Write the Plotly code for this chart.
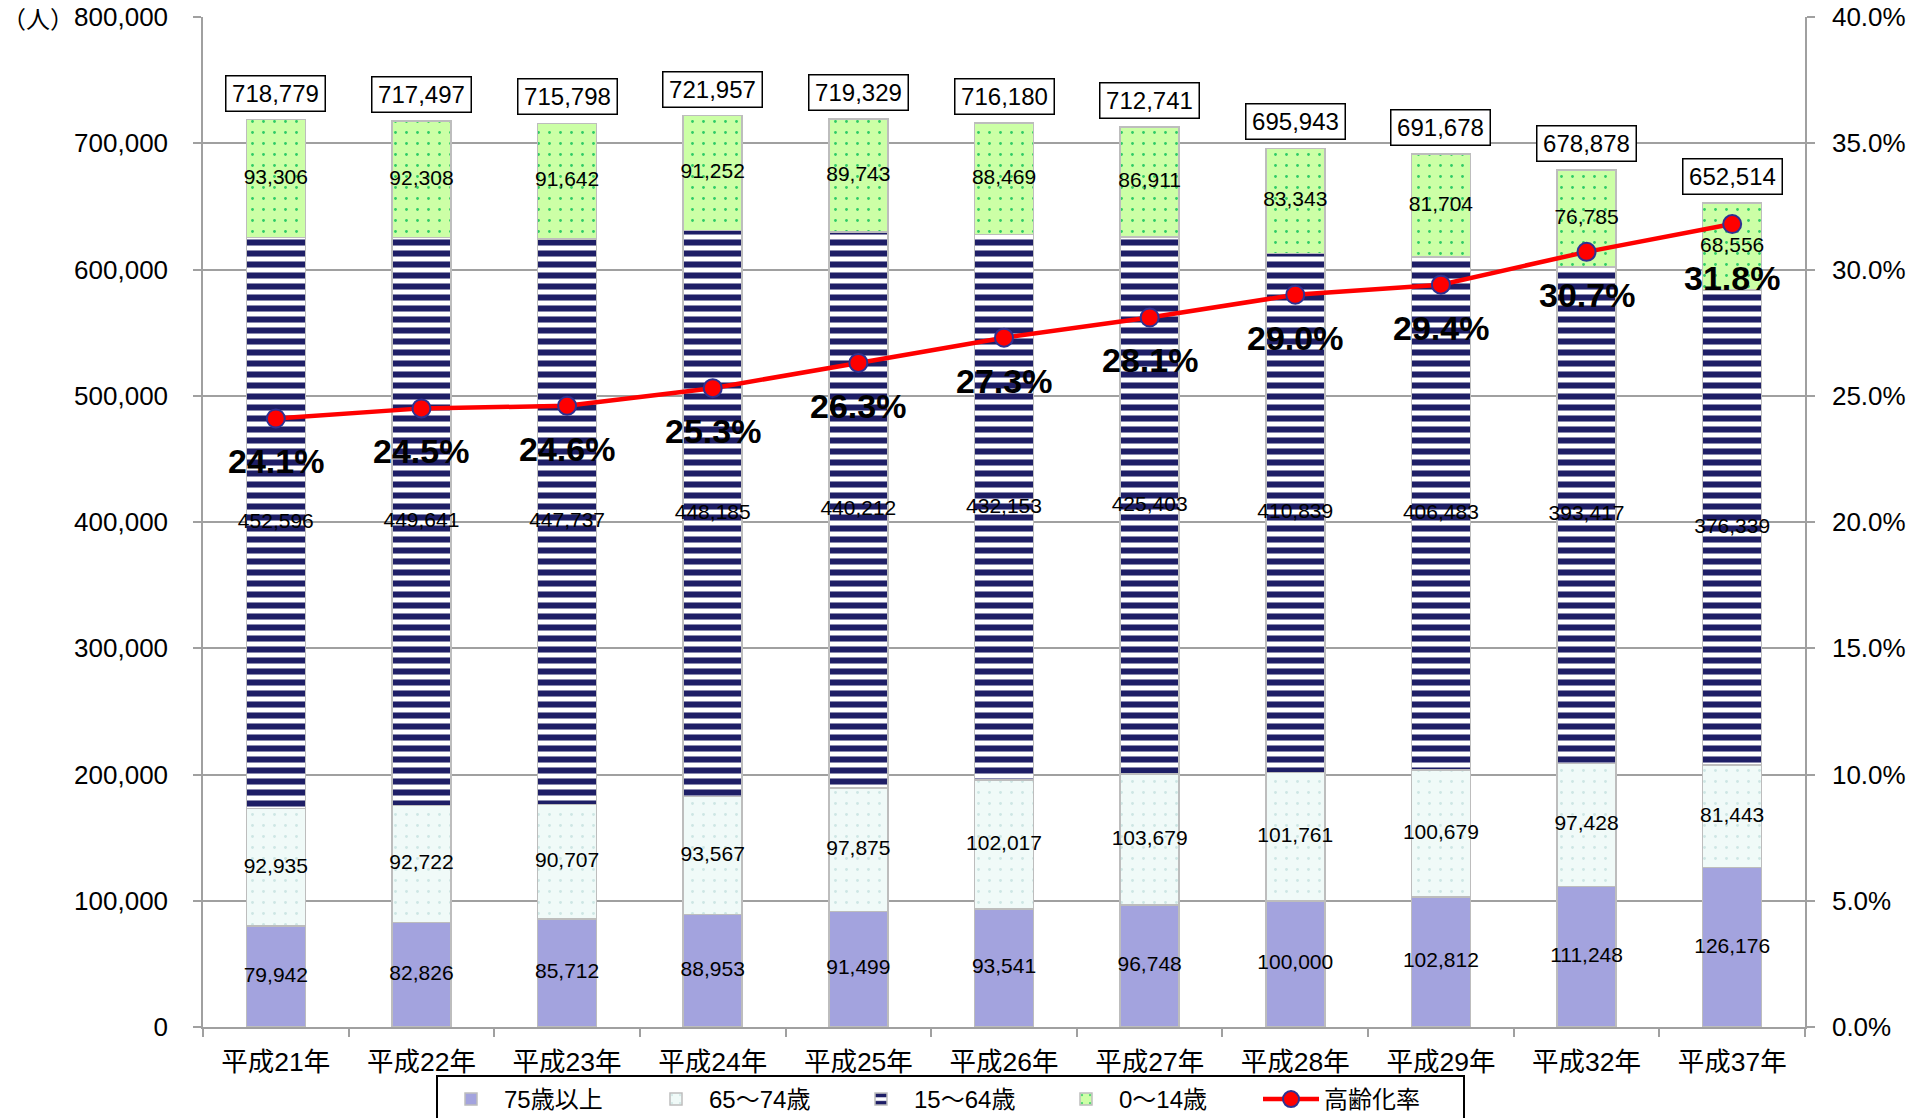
import plotly.graph_objects as go

# 年度
years = ["平成21年", "平成22年", "平成23年", "平成24年", "平成25年", "平成26年",
         "平成27年", "平成28年", "平成29年", "平成32年", "平成37年"]

# 年齢区分別人口（人）
age_75_over = [79942, 82826, 85712, 88953, 91499, 93541, 96748, 100000, 102812, 111248, 126176]
age_65_74 = [92935, 92722, 90707, 93567, 97875, 102017, 103679, 101761, 100679, 97428, 81443]
age_15_64 = [452596, 449641, 447737, 448185, 440212, 432153, 425403, 410839, 406483, 393417, 376339]
age_0_14 = [93306, 92308, 91642, 91252, 89743, 88469, 86911, 83343, 81704, 76785, 68556]
totals = [718779, 717497, 715798, 721957, 719329, 716180, 712741, 695943, 691678, 678878, 652514]

# 高齢化率（%）
aging_rate = [24.1, 24.5, 24.6, 25.3, 26.3, 27.3, 28.1, 29.0, 29.4, 30.7, 31.8]

FONT = "Liberation Sans, Arial, Noto Sans CJK JP, sans-serif"
GRID = "#A0A0A0"
BAR_EDGE = "#BDBDBD"

series = [
    ("75歳以上", age_75_over, dict(color="#A3A3DE")),
    ("65～74歳", age_65_74, dict(color="#F0FAF8",
                                 pattern=dict(shape=".", fgcolor="#CDE6E4", bgcolor="#F0FAF8",
                                              fgopacity=1, size=11, solidity=0.05))),
    ("15～64歳", age_15_64, dict(color="#FFFFFF",
                                 pattern=dict(shape="-", fgcolor="#1E1E66", bgcolor="#FFFFFF",
                                              fgopacity=1, size=11, solidity=0.55))),
    ("0～14歳", age_0_14, dict(color="#CCFFA6",
                               pattern=dict(shape=".", fgcolor="#2ECC66", bgcolor="#CCFFA6",
                                            fgopacity=1, size=11, solidity=0.05))),
]

fig = go.Figure()

for name, values, marker in series:
    marker = dict(marker)
    marker["line"] = dict(color=BAR_EDGE, width=1.5)
    fig.add_trace(go.Bar(x=years, y=values, name=name, marker=marker, yaxis="y"))

# segment value labels at the middle of each stacked segment
base = [0] * len(years)
for name, values, _ in series:
    mids = [b + v / 2 for b, v in zip(base, values)]
    fig.add_trace(go.Scatter(
        x=years, y=mids, mode="text", text=[f"{v:,}" for v in values],
        textfont=dict(family=FONT, size=21, color="#000000"),
        showlegend=False, hoverinfo="skip", yaxis="y"))
    base = [b + v for b, v in zip(base, values)]

# aging rate line
fig.add_trace(go.Scatter(
    x=years, y=[r / 100 for r in aging_rate], name="高齢化率", yaxis="y2",
    mode="lines+markers",
    line=dict(color="#FF0000", width=4.5),
    marker=dict(size=18, color="#FF0000", line=dict(color="#2E3192", width=2)),
))

annotations = []
# total population boxes above each bar
for cat, tot in zip(years, totals):
    annotations.append(dict(
        x=cat, y=tot, xref="x", yref="y", text=f"{tot:,}", showarrow=False,
        yanchor="bottom", yshift=8, width=92, height=28,
        font=dict(family=FONT, size=24, color="#000000"),
        bgcolor="#FFFFFF", bordercolor="#000000", borderwidth=1.5, borderpad=3))

# aging rate labels below each marker
for i, (cat, r) in enumerate(zip(years, aging_rate)):
    drop = 43 + (11 if i == len(years) - 1 else 0)
    annotations.append(dict(
        x=cat, y=r / 100, xref="x", yref="y2", text=f"<b>{r:.1f}%</b>", showarrow=False,
        yanchor="middle", yshift=-drop,
        font=dict(family=FONT, size=34, color="#000000")))

# unit label
annotations.append(dict(
    x=-203 / 1602, y=1, xref="paper", yref="paper", text="（人）", showarrow=False,
    xanchor="left", yanchor="middle",
    font=dict(family="Noto Sans CJK JP, sans-serif", size=24, color="#000000")))

fig.update_layout(
    width=1925, height=1118,
    margin=dict(l=203, r=120, t=17, b=91, autoexpand=False),
    paper_bgcolor="#FFFFFF", plot_bgcolor="#FFFFFF",
    barmode="stack", bargap=0.595,
    font=dict(family=FONT, size=24, color="#000000"),
    xaxis=dict(
        type="category", range=[-0.5, len(years) - 0.5], tickson="boundaries",
        ticks="outside", ticklen=8,
        tickcolor=GRID, tickwidth=1.5, showline=True, linecolor=GRID, linewidth=1.5,
        showgrid=False, ticklabelstandoff=10,
        tickfont=dict(family=FONT, size=26.5, color="#000000")),
    yaxis=dict(
        range=[0, 800000], dtick=100000, tickformat=",", ticks="outside", ticklen=8,
        tickcolor=GRID, tickwidth=1.5, showline=True, linecolor=GRID, linewidth=1.5,
        showgrid=True, gridcolor=GRID, gridwidth=1.5, zeroline=False,
        ticklabelstandoff=20, tickfont=dict(family=FONT, size=26, color="#000000")),
    yaxis2=dict(
        range=[0, 0.4], dtick=0.05, tickformat=".1%", overlaying="y", side="right",
        ticks="outside", ticklen=8, tickcolor=GRID, tickwidth=1.5,
        showline=True, linecolor=GRID, linewidth=1.5, showgrid=False, zeroline=False,
        ticklabelstandoff=12, tickfont=dict(family=FONT, size=26, color="#000000")),
    legend=dict(
        orientation="h", x=233 / 1602, y=-48 / 1010, xanchor="left", yanchor="top",
        traceorder="normal", bordercolor="#000000", borderwidth=2, bgcolor="#FFFFFF",
        itemwidth=56, entrywidth=134, entrywidthmode="pixels",
        font=dict(family=FONT, size=24, color="#000000")),
    annotations=annotations,
    showlegend=True,
)

fig.write_html("out.html")
